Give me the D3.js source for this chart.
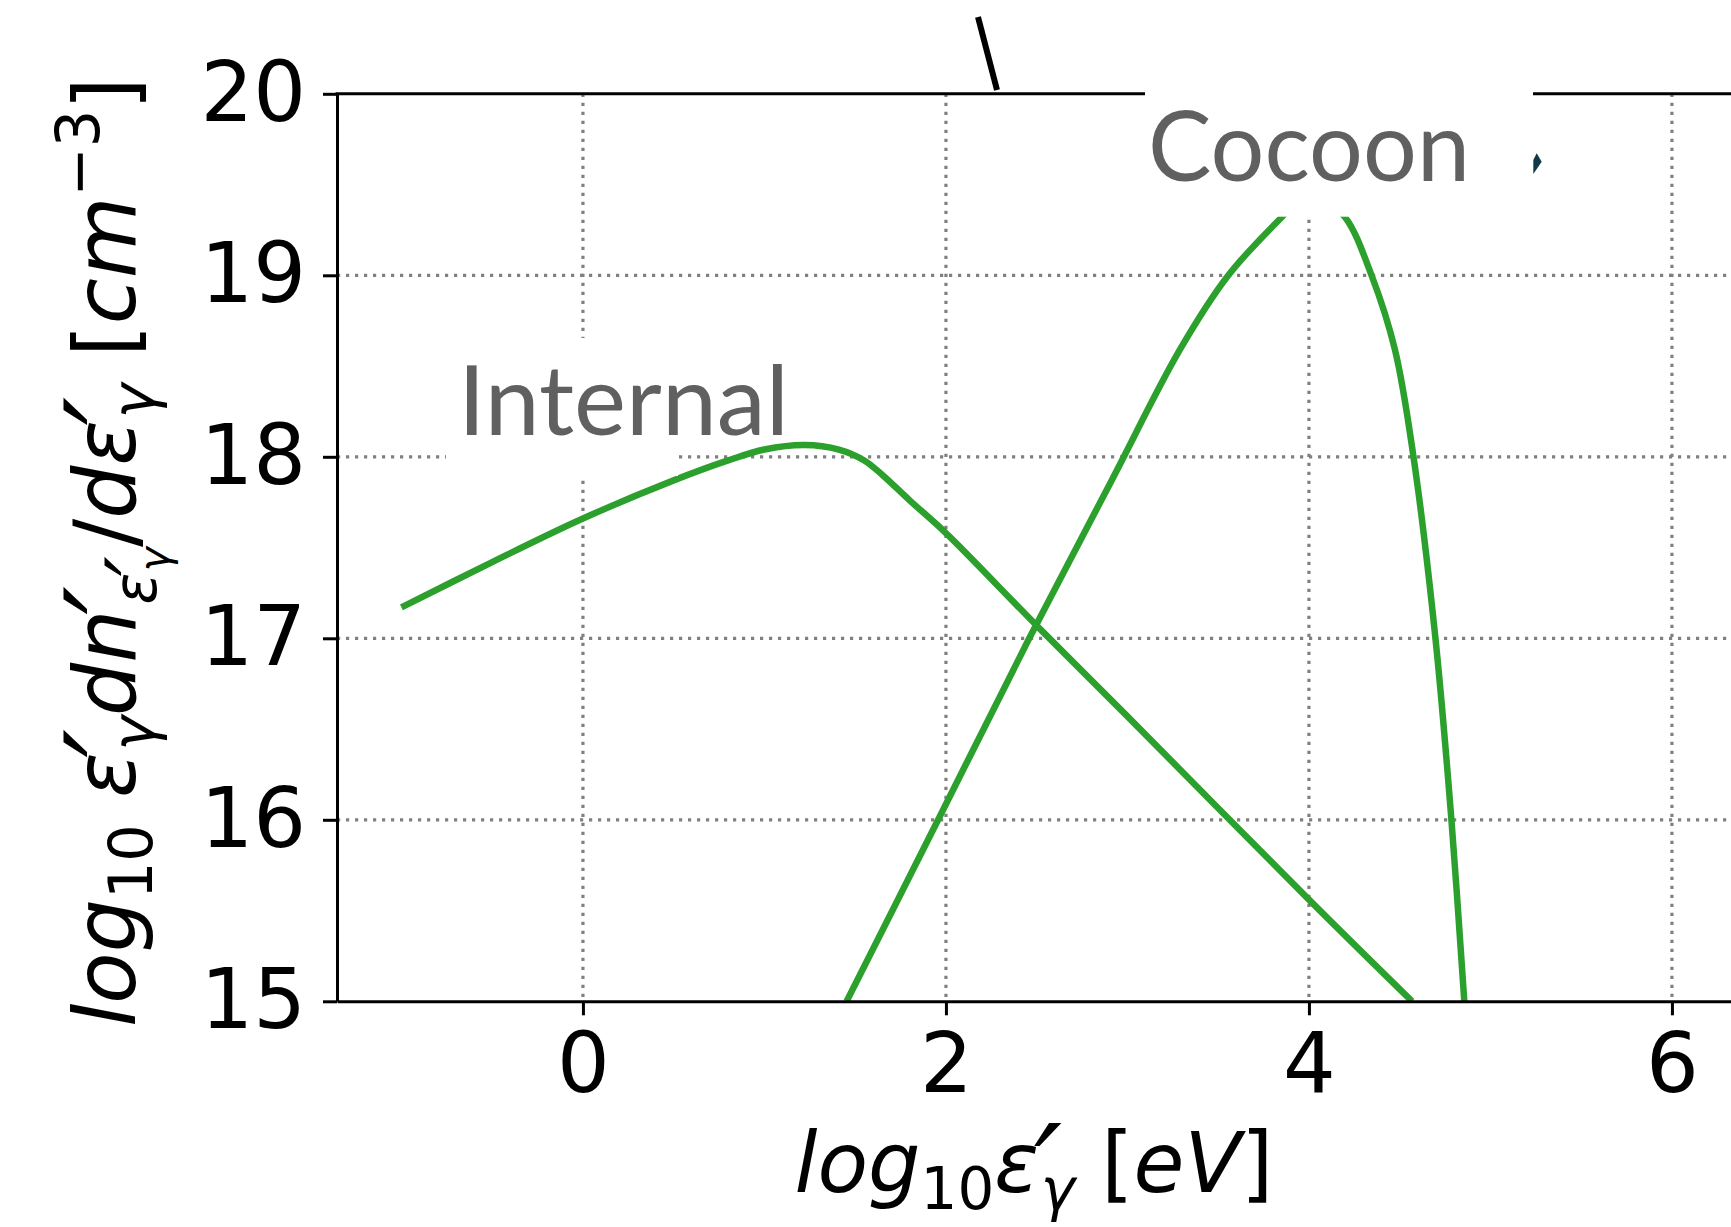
<!DOCTYPE html>
<html>
<head>
<meta charset="utf-8">
<script src="https://cdn.jsdelivr.net/npm/d3@7"></script>
<style>
  html, body { margin: 0; padding: 0; background: #fff; }
  svg { display: block; }
  text { white-space: pre; }
</style>
</head>
<body>
<svg id="chart" width="1731" height="1227"></svg>
<script>
// Photon spectra: log10 of energy density per log energy, internal vs cocoon field
const internalX = [-1.0, -0.5, 0.0, 0.5, 0.8, 1.0, 1.22, 1.41, 1.55, 1.65, 1.8, 2.0, 2.5, 3.0, 4.0, 4.568];
const internalY = [17.17, 17.42, 17.66, 17.87, 17.98, 18.04, 18.065, 18.04, 17.98, 17.90, 17.76, 17.58, 17.07, 16.57, 15.56, 15.0];

const cocoonX = [1.453, 1.957, 2.459, 2.913, 3.289, 3.556, 3.85, 3.97, 4.06, 4.199, 4.345, 4.474, 4.576, 4.697, 4.785, 4.856];
const cocoonY = [15.0, 16.0, 17.0, 17.87, 18.59, 19.0, 19.32, 19.43, 19.43, 19.32, 19.0, 18.59, 18.0, 17.0, 16.0, 15.0];

const xTicks = [0, 2, 4, 6];
const yTicks = [15, 16, 17, 18, 19, 20];
const seriesLabels = ["Internal", "Cocoon"];

const svg = d3.select("#chart");

const plotL = 337, plotT = 93.8, plotB = 1001.3, plotR = 1740;
const x = d3.scaleLinear().domain([-1.355, 6.375]).range([plotL, plotR]);
const y = d3.scaleLinear().domain([15, 20]).range([plotB, plotT]);

const GREEN = "#2ca02c";
const GRID = "#808080";

svg.append("defs").append("clipPath").attr("id", "plotClip")
  .append("rect").attr("x", plotL).attr("y", plotT).attr("width", plotR - plotL).attr("height", plotB - plotT);

// grid
const grid = svg.append("g");
grid.selectAll("line.h").data(yTicks.filter(v => v > 15 && v < 20)).join("line")
  .attr("class", "h")
  .attr("x1", plotL).attr("x2", plotR).attr("y1", d => y(d)).attr("y2", d => y(d))
  .attr("stroke", GRID).attr("stroke-width", 3.2).attr("stroke-dasharray", "3.2,5.8");
grid.selectAll("line.v").data(xTicks).join("line")
  .attr("class", "v")
  .attr("y1", plotT).attr("y2", plotB).attr("x1", d => x(d)).attr("x2", d => x(d))
  .attr("stroke", GRID).attr("stroke-width", 3.2).attr("stroke-dasharray", "3.2,5.8");

// curves
const line = d3.line().x(d => x(d[0])).y(d => y(d[1])).curve(d3.curveCatmullRom.alpha(0.5));
const curves = svg.append("g").attr("clip-path", "url(#plotClip)");
[[internalX, internalY], [cocoonX, cocoonY]].forEach(([xs, ys]) => {
  curves.append("path")
    .datum(xs.map((v, i) => [v, ys[i]]))
    .attr("d", line)
    .attr("fill", "none")
    .attr("stroke", GREEN)
    .attr("stroke-width", 6.5)
    .attr("stroke-linejoin", "round");
});

// axes
const FS = 83;
const xAxis = svg.append("g").attr("transform", `translate(0,${plotB})`)
  .call(d3.axisBottom(x).tickValues(xTicks).tickFormat(d3.format("d")).tickSize(14).tickPadding(18).tickSizeOuter(0));
const yAxis = svg.append("g").attr("transform", `translate(${plotL},0)`)
  .call(d3.axisLeft(y).tickValues(yTicks).tickFormat(d3.format("d")).tickSize(14).tickPadding(17).tickSizeOuter(0));
[xAxis, yAxis].forEach(a => {
  a.select(".domain").attr("stroke", "#000").attr("stroke-width", 3);
  a.selectAll(".tick line").attr("stroke", "#000").attr("stroke-width", 3);
  a.selectAll(".tick text").attr("fill", "#000")
    .attr("font-family", "DejaVu Sans").attr("font-size", FS);
});
// top spine
svg.append("line").attr("x1", plotL - 1.5).attr("x2", plotR).attr("y1", plotT).attr("y2", plotT)
  .attr("stroke", "#000").attr("stroke-width", 3);

// math-style axis labels
function addMath(textSel, parts, F) {
  let cur = 0;
  parts.forEach(p => {
    const sh = p.sh || 0;
    const ts = textSel.append("tspan").text(p.t)
      .attr("font-size", (p.s || 1) * F)
      .attr("font-style", p.it ? "italic" : "normal")
      .attr("dy", (sh - cur) * F);
    if (p.dx) ts.attr("dx", p.dx * F);
    cur = sh;
  });
}

function placeLabel(parts, F, cx, cy, length, rotate) {
  const g = svg.append("g");
  const inner = g.append("g");
  const t = inner.append("text").attr("font-family", "DejaVu Sans").attr("fill", "#000")
    .attr("x", 0).attr("y", 0);
  addMath(t, parts, F);
  const bb = t.node().getBBox();
  const s = length / bb.width;
  inner.attr("transform", `scale(${s},1) translate(${-bb.x - bb.width / 2},0)`);
  g.attr("transform", `translate(${cx},${cy}) rotate(${rotate})`);
}

// primed, gamma-subscripted epsilon
const epsPrimeGamma = (scale, base) => [
  { t: "ε", it: 1, s: scale, sh: base },
  { t: "′", it: 1, s: 1.5 * scale, sh: base + 0.26 * scale, dx: -0.06 * scale },
  { t: "γ", s: 0.7 * scale, it: 1, sh: base + 0.22 * scale, dx: -0.26 * scale }
];

const xLabelParts = [
  { t: "log", it: 1 }, { t: "10", s: 0.7, sh: 0.2 },
  ...epsPrimeGamma(1, 0),
  { t: " [" }, { t: "eV", it: 1 }, { t: "]" }
];
const yLabelParts = [
  { t: "log", it: 1 }, { t: "10", s: 0.7, sh: 0.2 }, { t: " " },
  ...epsPrimeGamma(1, 0),
  { t: "dn", it: 1 }, { t: "′", it: 1, s: 1.5, sh: 0.26, dx: -0.06 },
  ...epsPrimeGamma(0.7, 0.24).map((p, i) => i === 0 ? Object.assign({}, p, { dx: -0.22 }) : p),
  { t: "/" }, { t: "d", it: 1 },
  ...epsPrimeGamma(1, 0),
  { t: " [" }, { t: "cm", it: 1 }, { t: "−3", s: 0.7, sh: -0.42 }, { t: "]" }
];
placeLabel(xLabelParts, FS, 1034, 1192, 479, 0);
placeLabel(yLabelParts, 86, 135, 552, 950, -90);

// white annotation boxes with series names
const boxes = svg.append("g").attr("fill", "#fff");
boxes.append("rect").attr("x", 446).attr("y", 338).attr("width", 232).attr("height", 138);
boxes.append("rect").attr("x", 678).attr("y", 338).attr("width", 114).attr("height", 102);
boxes.append("rect").attr("x", 1145).attr("y", 0).attr("width", 388).attr("height", 216.7);

const labelFont = "Lato, 'Open Sans', sans-serif";
svg.append("text").text(seriesLabels[0])
  .attr("x", 458).attr("y", 435).attr("font-family", labelFont).attr("font-size", 96)
  .attr("fill", "#606060").attr("textLength", 331).attr("lengthAdjust", "spacingAndGlyphs");
svg.append("text").text(seriesLabels[1])
  .attr("x", 1148).attr("y", 181).attr("font-family", labelFont).attr("font-size", 96)
  .attr("fill", "#606060").attr("textLength", 322).attr("lengthAdjust", "spacingAndGlyphs");

// connector fragments near the top edge
svg.append("line").attr("x1", 978).attr("y1", 17).attr("x2", 997).attr("y2", 90)
  .attr("stroke", "#000").attr("stroke-width", 6);
svg.append("path").attr("d", "M1533.3,160 L1536.7,153.3 L1541.7,161.7 L1533.3,174 Z")
  .attr("fill", "#0e3a4a");
</script>
</body>
</html>
